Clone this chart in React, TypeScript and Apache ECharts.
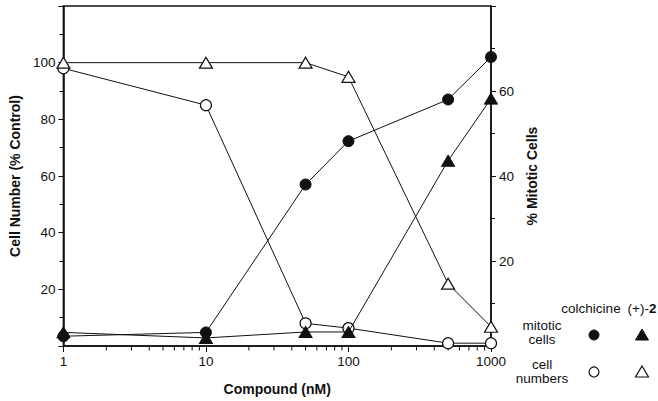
import React, { useEffect, useRef } from "react";
import * as echarts from "echarts";

const doses = [1, 10, 50, 100, 500, 1000];
const colchicineCellNumbers = [98, 85, 8, 6.3, 1, 1];
const compound2CellNumbers = [100, 100, 100, 95, 22, 6.8];
const colchicineMitotic = [2.3, 3.2, 38, 48.2, 58, 68];
const compound2Mitotic = [3.2, 1.9, 3.3, 3.3, 43.6, 58.2];

const leftTicks = [20, 40, 60, 80, 100];
const rightTicks = [20, 40, 60];
const xMinorTicks = [2, 3, 4, 5, 6, 7, 8, 9, 20, 30, 40, 50, 60, 70, 80, 90, 200, 300, 400, 500, 600, 700, 800, 900];

const FONT = "'Liberation Sans', Arial, Helvetica, sans-serif";
const INK = "#111";

export default function App() {
  const ref = useRef<HTMLDivElement>(null);
  useEffect(() => {
    if (!ref.current) return;
    const chart = echarts.init(ref.current, undefined, { renderer: "svg" });
    const pair = (ys: number[]) => doses.map((d, i) => [d, ys[i]]);
    const lineStyle = { color: INK, width: 1 };
    const open = { color: "#fff", borderColor: INK, borderWidth: 1.2 };
    const filled = { color: INK, borderColor: INK, borderWidth: 1 };
    const txt = (text: string, x: number, y: number) => ({
      type: "text",
      x,
      y,
      style: { text, font: `13.5px ${FONT}`, fill: INK, align: "center", verticalAlign: "middle" },
    });
    chart.setOption({
      animation: false,
      backgroundColor: "#fff",
      textStyle: { fontFamily: FONT },
      grid: {
        left: 58,
        right: 167,
        top: 6,
        bottom: 50,
        show: true,
        borderColor: INK,
        borderWidth: 1.5,
        backgroundColor: "transparent",
      },
      xAxis: {
        type: "log",
        logBase: 10,
        min: 1,
        max: 1000,
        name: "Compound (nM)",
        nameLocation: "middle",
        nameGap: 36,
        nameTextStyle: { fontSize: 14, fontWeight: "bold", color: INK, fontFamily: FONT },
        axisLine: { lineStyle: { color: INK, width: 1.5 } },
        axisTick: { length: 6, lineStyle: { color: INK, width: 1 } },
        minorTick: { show: false },
        axisLabel: {
          fontSize: 13.5,
          color: INK,
          margin: 8,
          fontFamily: FONT,
          formatter: (v: number) => String(Math.round(v)),
        },
        splitLine: { show: false },
        minorSplitLine: { show: false },
      },
      yAxis: [
        {
          type: "value",
          min: 0,
          max: 120,
          interval: 20,
          position: "left",
          name: "Cell Number (% Control)",
          nameLocation: "middle",
          nameGap: 39,
          nameTextStyle: { fontSize: 14, fontWeight: "bold", color: INK, fontFamily: FONT },
          axisLine: { show: true, lineStyle: { color: INK, width: 1.5 } },
          axisTick: { show: true, length: 5, lineStyle: { color: INK, width: 1 } },
          minorTick: { show: true, splitNumber: 2, length: 4, lineStyle: { color: INK, width: 1 } },
          axisLabel: {
            fontSize: 13.5,
            color: INK,
            margin: 8,
            fontFamily: FONT,
            formatter: (v: number) => (leftTicks.includes(v) ? String(v) : ""),
          },
          splitLine: { show: false },
        },
        {
          type: "value",
          min: 0,
          max: 80,
          interval: 20,
          position: "right",
          name: "% Mitotic Cells",
          nameLocation: "middle",
          nameGap: 28,
          nameTextStyle: { fontSize: 14, fontWeight: "bold", color: INK, fontFamily: FONT },
          axisLine: { show: true, lineStyle: { color: INK, width: 1.5 } },
          axisTick: { show: true, length: 5, lineStyle: { color: INK, width: 1 } },
          minorTick: { show: true, splitNumber: 2, length: 4, lineStyle: { color: INK, width: 1 } },
          axisLabel: {
            fontSize: 13.5,
            color: INK,
            margin: 8,
            fontFamily: FONT,
            formatter: (v: number) => (rightTicks.includes(v) ? String(v) : ""),
          },
          splitLine: { show: false },
        },
      ],
      series: [
        {
          name: "x minor ticks",
          type: "custom",
          xAxisIndex: 0,
          yAxisIndex: 0,
          clip: false,
          silent: true,
          data: xMinorTicks.map((v) => [v, 0]),
          renderItem: (_params: any, api: any) => {
            const p = api.coord([api.value(0), 0]);
            return {
              type: "line",
              shape: { x1: p[0], y1: p[1], x2: p[0], y2: p[1] + 4.5 },
              style: { stroke: INK, lineWidth: 1 },
            };
          },
          z: 1,
        },
        {
          name: "colchicine cell numbers",
          type: "line",
          yAxisIndex: 0,
          data: pair(colchicineCellNumbers),
          symbol: "circle",
          symbolSize: 11,
          showAllSymbol: true,
          lineStyle,
          itemStyle: open,
          z: 2,
        },
        {
          name: "(+)-2 cell numbers",
          type: "line",
          yAxisIndex: 0,
          data: pair(compound2CellNumbers),
          symbol: "triangle",
          symbolSize: [13, 11],
          showAllSymbol: true,
          lineStyle,
          itemStyle: open,
          z: 3,
        },
        {
          name: "colchicine mitotic cells",
          type: "line",
          yAxisIndex: 1,
          data: pair(colchicineMitotic),
          symbol: "circle",
          symbolSize: 11,
          showAllSymbol: true,
          lineStyle,
          itemStyle: filled,
          z: 4,
        },
        {
          name: "(+)-2 mitotic cells",
          type: "line",
          yAxisIndex: 1,
          data: pair(compound2Mitotic),
          symbol: "triangle",
          symbolSize: [13, 11],
          showAllSymbol: true,
          lineStyle,
          itemStyle: filled,
          z: 5,
        },
      ],
      graphic: [
        txt("colchicine", 591, 308),
        {
          type: "text",
          x: 642,
          y: 308,
          style: {
            text: "(+)-{b|2}",
            fontSize: 13.5,
            fontFamily: FONT,
            fill: INK,
            align: "center",
            verticalAlign: "middle",
            rich: { b: { fontWeight: "bold", fontSize: 13.5, fontFamily: FONT, fill: INK } },
          },
        },
        txt("mitotic", 542, 325),
        txt("cells", 542, 339),
        txt("cell", 542, 364),
        txt("numbers", 542, 378),
        { type: "circle", shape: { cx: 594, cy: 335, r: 5 }, style: { fill: INK, stroke: INK } },
        {
          type: "polygon",
          shape: { points: [[642, 329], [648.5, 340], [635.5, 340]] },
          style: { fill: INK, stroke: INK },
        },
        { type: "circle", shape: { cx: 594, cy: 372, r: 5 }, style: { fill: "#fff", stroke: INK, lineWidth: 1.2 } },
        {
          type: "polygon",
          shape: { points: [[642, 366], [648.5, 377], [635.5, 377]] },
          style: { fill: "#fff", stroke: INK, lineWidth: 1.2 },
        },
      ],
    });
    return () => chart.dispose();
  }, []);
  return (
    <div
      ref={ref}
      style={{ position: "fixed", left: 0, top: 0, width: 658, height: 401, background: "#fff" }}
    />
  );
}
